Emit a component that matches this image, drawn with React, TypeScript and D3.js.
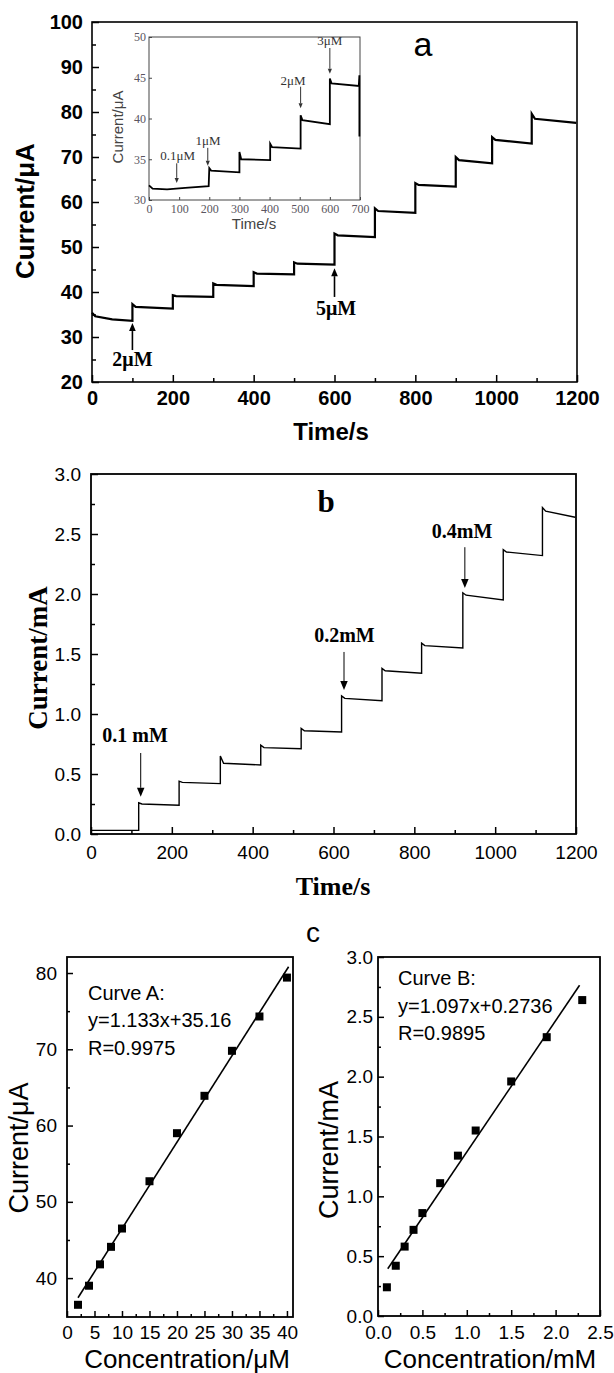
import React, { useEffect, useRef } from "react";
import * as d3 from "d3";

// ---- panel a : amperometric response, µA ----
const aInit = [[0, 35.4], [8, 34.6], [50, 33.9], [100, 33.6]];
const aStepTime = [100, 200, 300, 400, 500, 600, 700, 800, 900, 990, 1088];
const aPeak = [37.3, 39.3, 41.9, 44.4, 46.6, 53.0, 58.6, 64.2, 70.0, 74.4, 79.6];
const aLevel = [36.7, 39.1, 41.6, 44.1, 46.3, 52.6, 58.0, 63.8, 69.3, 73.8, 78.5];
const aEnd = [36.3, 38.9, 41.3, 43.9, 46.1, 52.2, 57.6, 63.4, 68.6, 73.0, 77.6];
const aNotes = [
  { text: "2\u03bcM", t: 100, tip: 33.1, tail: 27.1, textT: 100, textV: 23.6 },
  { text: "5\u03bcM", t: 600, tip: 45.3, tail: 38.9, textT: 604, textV: 34.9 },
];

// ---- inset of panel a ----
const insetInit = [[0, 31.8], [12, 31.4], [60, 31.3], [120, 31.5], [198, 31.7]];
const insetStepTime = [200, 300, 402, 503, 600];
const insetPeak = [33.9, 35.9, 36.9, 40.4, 44.9];
const insetLevel = [33.6, 35.0, 36.5, 39.8, 44.3];
const insetEnd = [33.4, 34.9, 36.3, 39.3, 44.0];
const insetTail = [[698, 45.3], [698, 37.8]];
const insetNotes = [
  { text: "0.1\u03bcM", t: 92, tip: 32.1, tail: 34.5, textT: 95, textV: 34.9 },
  { text: "1\u03bcM", t: 195, tip: 34.2, tail: 36.4, textT: 196, textV: 36.7 },
  { text: "2\u03bcM", t: 503, tip: 41.25, tail: 43.9, textT: 478, textV: 44.1 },
  { text: "3\u03bcM", t: 600, tip: 45.5, tail: 48.65, textT: 600, textV: 49.0 },
];

// ---- panel b : mA ----
const bInit = [[0, 0.03], [118, 0.03]];
const bStepTime = [118, 218, 320, 420, 520, 620, 720, 818, 920, 1020, 1117];
const bPeak = [0.26, 0.44, 0.65, 0.74, 0.88, 1.15, 1.38, 1.59, 2.01, 2.37, 2.72];
const bLevel = [0.25, 0.43, 0.59, 0.72, 0.86, 1.13, 1.36, 1.57, 1.99, 2.35, 2.69];
const bEnd = [0.24, 0.42, 0.575, 0.71, 0.85, 1.11, 1.34, 1.55, 1.95, 2.32, 2.64];
const bNotes = [
  { text: "0.1 mM", t: 123, tip: 0.31, tail: 0.675, textT: 109, textV: 0.767 },
  { text: "0.2mM", t: 626, tip: 1.2, tail: 1.517, textT: 627, textV: 1.6 },
  { text: "0.4mM", t: 925, tip: 2.05, tail: 2.39, textT: 918, textV: 2.467 },
];

// ---- panel c : calibration ----
const cAConc = [2, 4, 6, 8, 10, 15, 20, 25, 30, 35, 40];
const cACurrent = [36.5, 39.0, 41.8, 44.1, 46.5, 52.7, 59.0, 63.9, 69.8, 74.3, 79.4];
const cAFit = { slope: 1.133, intercept: 35.16, from: 2, to: 40.3 };
const cAText = ["Curve A:", "y=1.133x+35.16", "R=0.9975"];

const cBConc = [0.1, 0.2, 0.3, 0.4, 0.5, 0.7, 0.9, 1.1, 1.5, 1.9, 2.3];
const cBCurrent = [0.24, 0.42, 0.58, 0.72, 0.86, 1.11, 1.34, 1.55, 1.96, 2.33, 2.64];
const cBFit = { slope: 1.097, intercept: 0.2736, from: 0.11, to: 2.27 };
const cBText = ["Curve B:", "y=1.097x+0.2736", "R=0.9895"];

const SANS = "'Liberation Sans', Arial, sans-serif";
const SERIF = "'Liberation Serif', 'Times New Roman', serif";

const range = (a, b, s) => d3.range(a, b + s / 2, s);

// build a step trace from read-off levels
const stepTrace = (init, times, peak, level, end, tEnd, settle) => {
  const pts = init.map((p) => [p[0], p[1]]);
  times.forEach((t, i) => {
    const next = i < times.length - 1 ? times[i + 1] : tEnd;
    pts.push([t, peak[i]]);
    pts.push([t + settle, level[i]]);
    pts.push([next, end[i]]);
  });
  return pts;
};

const drawAxes = (g, x, y, o) => {
  const [xl, xr] = x.range();
  const [yb, yt] = y.range();
  g.append("rect")
    .attr("x", xl)
    .attr("y", yt)
    .attr("width", xr - xl)
    .attr("height", yb - yt)
    .attr("fill", o.bg || "none")
    .attr("stroke", o.stroke || "#000")
    .attr("stroke-width", o.frameWidth);

  const style = (sel) => {
    sel.select(".domain").remove();
    sel
      .attr("font-family", o.font)
      .attr("font-size", o.size)
      .attr("font-weight", o.weight || "normal");
    sel.selectAll("line").attr("stroke", o.stroke || "#000").attr("stroke-width", o.tickWidth);
    sel.selectAll("text").attr("fill", o.color || "#000");
  };

  g.append("g")
    .attr("transform", `translate(0,${yb})`)
    .call(d3.axisBottom(x).tickValues(o.xMajor).tickSize(-o.tick).tickPadding(o.padX).tickFormat(o.fmtX))
    .call(style);
  g.append("g")
    .attr("transform", `translate(0,${yb})`)
    .call(d3.axisBottom(x).tickValues(o.xMinor).tickSize(-o.minor).tickFormat(() => ""))
    .call(style);
  g.append("g")
    .attr("transform", `translate(${xl},0)`)
    .call(d3.axisLeft(y).tickValues(o.yMajor).tickSize(-o.tick).tickPadding(o.padY).tickFormat(o.fmtY))
    .call(style);
  if (o.yMinor.length)
    g.append("g")
      .attr("transform", `translate(${xl},0)`)
      .call(d3.axisLeft(y).tickValues(o.yMinor).tickSize(-o.minor).tickFormat(() => ""))
      .call(style);
};

const drawNotes = (g, x, y, notes, o) => {
  const n = g.append("g");
  notes.forEach((d) => {
    const px = x(d.t);
    const tip = y(d.tip);
    const tail = y(d.tail);
    const dir = tip < tail ? -1 : 1;
    n.append("line")
      .attr("x1", px)
      .attr("x2", px)
      .attr("y1", tail)
      .attr("y2", tip - dir * o.head)
      .attr("stroke", o.color)
      .attr("stroke-width", o.lw);
    n.append("path")
      .attr(
        "d",
        `M${px},${tip} L${px - o.head / 2.4},${tip - dir * o.head} L${px + o.head / 2.4},${tip - dir * o.head} Z`
      )
      .attr("fill", o.color);
    n.append("text")
      .attr("x", x(d.textT))
      .attr("y", y(d.textV))
      .attr("text-anchor", "middle")
      .attr("font-family", SERIF)
      .attr("font-weight", o.weight)
      .attr("font-size", o.size)
      .attr("fill", o.color)
      .text(d.text);
  });
};

const label = (svg, text, x, y, o) => {
  svg
    .append("text")
    .attr("transform", `translate(${x},${y})${o.rotate ? " rotate(-90)" : ""}`)
    .attr("text-anchor", "middle")
    .attr("font-family", o.font)
    .attr("font-size", o.size)
    .attr("font-weight", o.weight || "normal")
    .attr("fill", o.color || "#000")
    .text(text);
};

const App = () => {
  const svgRef = useRef(null);

  useEffect(() => {
    const svg = d3.select(svgRef.current);
    svg.selectAll("*").remove();

    // ================= panel a =================
    const xa = d3.scaleLinear().domain([0, 1200]).range([92, 577]);
    const ya = d3.scaleLinear().domain([20, 100]).range([382, 22]);
    const ga = svg.append("g");
    drawAxes(ga, xa, ya, {
      xMajor: range(0, 1200, 200),
      xMinor: range(100, 1100, 200),
      yMajor: range(20, 100, 10),
      yMinor: range(25, 95, 10),
      tick: 7,
      minor: 4,
      padX: 9,
      padY: 9,
      fmtX: d3.format("d"),
      fmtY: d3.format("d"),
      font: SANS,
      size: 20,
      weight: "bold",
      frameWidth: 1.6,
      tickWidth: 1.5,
    });
    const lineA = d3.line().x((d) => xa(d[0])).y((d) => ya(d[1]));
    ga.append("path")
      .attr("d", lineA(stepTrace(aInit, aStepTime, aPeak, aLevel, aEnd, 1198, 8)))
      .attr("fill", "none")
      .attr("stroke", "#000")
      .attr("stroke-width", 2.2);
    drawNotes(ga, xa, ya, aNotes, { color: "#000", lw: 1.6, head: 8, size: 20, weight: "bold" });

    label(svg, "Current/\u03bcA", 34, 211, { font: SANS, size: 26, weight: "bold", rotate: true });
    label(svg, "Time/s", 331, 440, { font: SANS, size: 24, weight: "bold" });
    label(svg, "a", 423, 56, { font: SANS, size: 34 });

    // ---- inset ----
    const xi = d3.scaleLinear().domain([0, 700]).range([149, 360]);
    const yi = d3.scaleLinear().domain([30, 50]).range([200, 37]);
    const gi = svg.append("g");
    drawAxes(gi, xi, yi, {
      xMajor: range(0, 700, 100),
      xMinor: [],
      yMajor: range(30, 50, 5),
      yMinor: [],
      tick: 3,
      minor: 0,
      padX: 4,
      padY: 3,
      fmtX: d3.format("d"),
      fmtY: d3.format("d"),
      font: SERIF,
      size: 12,
      color: "#5a5560",
      stroke: "#444",
      bg: "#fff",
      frameWidth: 1,
      tickWidth: 1,
    });
    const lineI = d3.line().x((d) => xi(d[0])).y((d) => yi(d[1]));
    gi.append("path")
      .attr(
        "d",
        lineI(
          stepTrace(insetInit, insetStepTime, insetPeak, insetLevel, insetEnd, 696, 6).concat(insetTail)
        )
      )
      .attr("fill", "none")
      .attr("stroke", "#000")
      .attr("stroke-width", 1.8);
    drawNotes(gi, xi, yi, insetNotes, { color: "#333", lw: 1, head: 5, size: 13, weight: "normal" });
    label(svg, "Current/\u03bcA", 123, 127, { font: SANS, size: 15, color: "#444", rotate: true });
    label(svg, "Time/s", 254, 229, { font: SANS, size: 15, color: "#444" });

    // ================= panel b =================
    const xb = d3.scaleLinear().domain([0, 1200]).range([91, 576]);
    const yb = d3.scaleLinear().domain([0, 3]).range([834, 474]);
    const gb = svg.append("g");
    drawAxes(gb, xb, yb, {
      xMajor: range(0, 1200, 200),
      xMinor: range(100, 1100, 200),
      yMajor: range(0, 3, 0.5),
      yMinor: range(0.25, 2.75, 0.5),
      tick: 7,
      minor: 4,
      padX: 12,
      padY: 10,
      fmtX: d3.format("d"),
      fmtY: d3.format(".1f"),
      font: SANS,
      size: 19,
      frameWidth: 1.8,
      tickWidth: 1.5,
    });
    const lineB = d3.line().x((d) => xb(d[0])).y((d) => yb(d[1]));
    gb.append("path")
      .attr("d", lineB(stepTrace(bInit, bStepTime, bPeak, bLevel, bEnd, 1198, 8)))
      .attr("fill", "none")
      .attr("stroke", "#000")
      .attr("stroke-width", 1.4);
    drawNotes(gb, xb, yb, bNotes, { color: "#000", lw: 1, head: 9, size: 20, weight: "bold" });

    label(svg, "Current/mA", 47, 658, { font: SERIF, size: 27, weight: "bold", rotate: true });
    label(svg, "Time/s", 333, 895, { font: SERIF, size: 26, weight: "bold" });
    label(svg, "b", 326, 512, { font: SERIF, size: 31, weight: "bold" });

    // ================= panel c =================
    label(svg, "c", 313, 942, { font: SANS, size: 28 });

    const drawCal = (x, y, conc, cur, fit, texts, o) => {
      const g = svg.append("g");
      drawAxes(g, x, y, o);
      g.append("line")
        .attr("x1", x(fit.from))
        .attr("x2", x(fit.to))
        .attr("y1", y(fit.slope * fit.from + fit.intercept))
        .attr("y2", y(fit.slope * fit.to + fit.intercept))
        .attr("stroke", "#000")
        .attr("stroke-width", 1.6);
      g.append("g")
        .selectAll("rect")
        .data(conc.map((c, i) => [c, cur[i]]))
        .join("rect")
        .attr("x", (d) => x(d[0]) - 4)
        .attr("y", (d) => y(d[1]) - 4)
        .attr("width", 8)
        .attr("height", 8)
        .attr("fill", "#000");
      g.append("g")
        .selectAll("text")
        .data(texts)
        .join("text")
        .attr("x", o.textX)
        .attr("y", (d, i) => o.textY[i])
        .attr("font-family", SANS)
        .attr("font-size", 20)
        .attr("fill", "#000")
        .text((d) => d);
    };

    const xcA = d3.scaleLinear().domain([0, 41.1]).range([67, 293]);
    const ycA = d3.scaleLinear().domain([34.9, 82.1]).range([1317, 957]);
    drawCal(xcA, ycA, cAConc, cACurrent, cAFit, cAText, {
      xMajor: range(0, 40, 5),
      xMinor: range(2.5, 37.5, 5),
      yMajor: range(40, 80, 10),
      yMinor: range(45, 75, 10),
      tick: 6,
      minor: 3,
      padX: 9,
      padY: 10,
      fmtX: d3.format("d"),
      fmtY: d3.format("d"),
      font: SANS,
      size: 19,
      frameWidth: 1.8,
      tickWidth: 1.5,
      textX: 88,
      textY: [1000, 1027, 1055],
    });
    label(svg, "Current/\u03bcA", 28, 1148, { font: SANS, size: 27, rotate: true });
    label(svg, "Concentration/\u03bcM", 187, 1368, { font: SANS, size: 26 });

    const xcB = d3.scaleLinear().domain([0, 2.5]).range([378, 600]);
    const ycB = d3.scaleLinear().domain([0, 3]).range([1316, 957]);
    drawCal(xcB, ycB, cBConc, cBCurrent, cBFit, cBText, {
      xMajor: range(0, 2.5, 0.5),
      xMinor: range(0.25, 2.25, 0.5),
      yMajor: range(0, 3, 0.5),
      yMinor: range(0.25, 2.75, 0.5),
      tick: 6,
      minor: 3,
      padX: 10,
      padY: 5,
      fmtX: d3.format(".1f"),
      fmtY: d3.format(".1f"),
      font: SANS,
      size: 19,
      frameWidth: 1.8,
      tickWidth: 1.5,
      textX: 398,
      textY: [985, 1013, 1040],
    });
    label(svg, "Current/mA", 338, 1150, { font: SANS, size: 27, rotate: true });
    label(svg, "Concentration/mM", 490, 1368, { font: SANS, size: 26 });
  }, []);

  return (
    <svg
      ref={svgRef}
      width={614}
      height={1373}
      viewBox="0 0 614 1373"
      style={{ position: "absolute", left: 0, top: 0, background: "#fff" }}
    />
  );
};

export default App;
